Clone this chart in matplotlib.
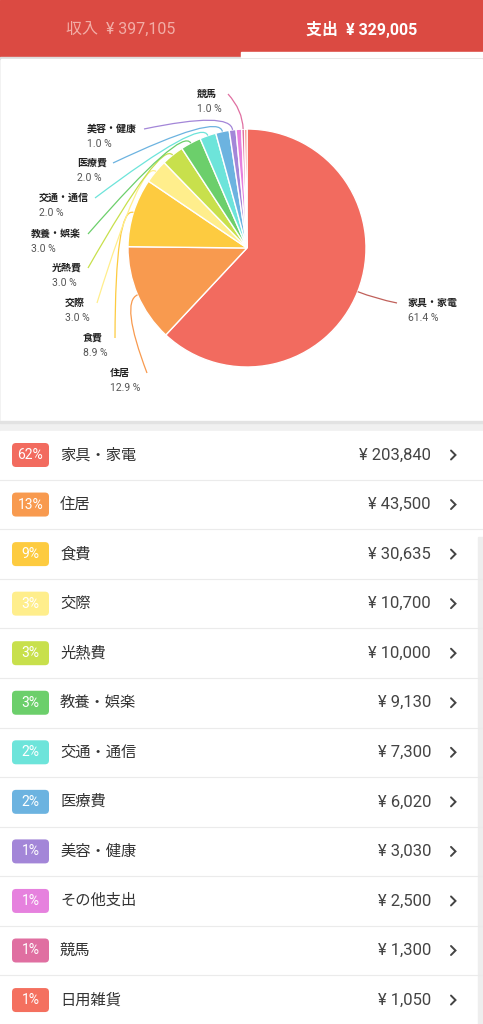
import matplotlib
matplotlib.use("Agg")

import numpy as np
import matplotlib.pyplot as plt
from matplotlib.patches import Rectangle, FancyBboxPatch, PathPatch
from matplotlib.path import Path

plt.rcParams['font.family'] = ['Roboto', 'Noto Sans CJK JP', 'DejaVu Sans']

# データ
income_label = '収入'
expense_label = '支出'
income_total = 397105

categories = ['家具・家電', '住居', '食費', '交際', '光熱費', '教養・娯楽',
              '交通・通信', '医療費', '美容・健康', 'その他支出', '競馬', '日用雑貨']
amounts = [203840, 43500, 30635, 10700, 10000, 9130,
           7300, 6020, 3030, 2500, 1300, 1050]
colors = ['#F26B5F', '#F89A4F', '#FDCB40', '#FFEE8C', '#C8E04C', '#6CCF6B',
          '#6DE4DA', '#6CB3E0', '#A386D8', '#E681DE', '#E06FA1', '#F4705F']
# 円グラフのラベルに表示されている値（画面の表示そのまま）
pie_pct_labels = ['61.4 %', '12.9 %', '8.9 %', '3.0 %', '3.0 %', '3.0 %',
                  '2.0 %', '2.0 %', '1.0 %', None, '1.0 %', None]

# レイアウト（ピクセル）
W, H = 483, 1024
cx, cy, r = 247, 248, 119
# ラベル位置: (テキスト左端x, 名前のy, 引き出し線の始点x)
label_pos = {
    0: (408, 303, 397),
    1: (110, 373, 147),
    2: (83, 338, 115),
    3: (65, 303, 97),
    4: (52, 268, 88),
    5: (31, 234, 88),
    6: (39, 198, 95),
    7: (77, 163, 113),
    8: (87, 129, 144),
    10: (197, 94, 228),
}

fig = plt.figure(figsize=(W / 100, H / 100), dpi=100)
fig.patch.set_facecolor('#F0F0F0')
ax = fig.add_axes([0, 0, 1, 1])

# 背景
ax.add_patch(Rectangle((0, 0), W, 57, color='#DB4A42', zorder=0))
ax.add_patch(Rectangle((241, 52), W - 241, 5, color='white', zorder=1))
ax.add_patch(Rectangle((0, 57), W, 2, color='#DDDDDD', zorder=0))
ax.add_patch(Rectangle((1, 59), W - 2, 362, color='white', zorder=0))
ax.add_patch(Rectangle((0, 421), W, 1.5, color='#E2E2E2', zorder=0))
ax.add_patch(Rectangle((0, 431), W, H - 431, color='white', zorder=0))
ax.add_patch(Rectangle((478, 537), 5, H - 537, color='#EEEEEE', zorder=1))

total = sum(amounts)
ax.text(121, 29, f'{income_label}  ¥ {income_total:,}', ha='center', va='center',
        fontsize=11.5, color='#F2ADA6')
ax.text(362, 29, f'{expense_label}  ¥ {total:,}', ha='center', va='center',
        fontsize=11.5, color='white', fontweight='bold')

# 円グラフ（y軸反転のため counterclock=True で見た目は時計回り）
wedges, _ = ax.pie(amounts, colors=colors, startangle=-90, counterclock=True,
                   center=(cx, cy), radius=r,
                   wedgeprops=dict(edgecolor='white', linewidth=1.0))

for i, w in enumerate(wedges):
    if pie_pct_labels[i] is None:
        continue
    tx, ty, ax0 = label_pos[i]
    mid = np.deg2rad((w.theta1 + w.theta2) / 2)
    edge = (cx + r * np.cos(mid), cy + r * np.sin(mid))
    out = (cx + r * 1.16 * np.cos(mid), cy + r * 1.16 * np.sin(mid))
    path = Path([(ax0, ty), out, edge], [Path.MOVETO, Path.CURVE3, Path.CURVE3])
    ax.add_patch(PathPatch(path, facecolor='none', edgecolor=colors[i] if i else '#C0605A',
                           linewidth=0.9, zorder=2))
    ax.text(tx, ty, categories[i], ha='left', va='center', fontsize=7.2,
            fontweight='bold', color='#222222')
    ax.text(tx, ty + 15, pie_pct_labels[i], ha='left', va='center', fontsize=7.5,
            color='#555555')

# リスト
row0, row_h = 455, 49.55
for i, (name, amt, col) in enumerate(zip(categories, amounts, colors)):
    yc = row0 + i * row_h
    pct = max(1, round(amt / total * 100))
    ax.add_patch(FancyBboxPatch((12, yc - 12), 37, 24,
                                boxstyle='round,pad=0,rounding_size=4',
                                facecolor=col, edgecolor='none', zorder=2))
    ax.text(30.5, yc, f'{pct}%', ha='center', va='center', fontsize=10,
            color='white', zorder=3)
    ax.text(60, yc, name, ha='left', va='center', fontsize=11, color='#333333')
    ax.text(431, yc, f'¥ {amt:,}', ha='right', va='center', fontsize=12,
            color='#444444')
    ax.plot([451, 455.5, 451], [yc - 4.5, yc, yc + 4.5], color='#444444',
            linewidth=1.4, solid_capstyle='round', solid_joinstyle='miter')
    sep = yc + row_h / 2
    ax.plot([0, W], [sep, sep], color='#EBEBEB', linewidth=0.8)

ax.set_xlim(0, W)
ax.set_ylim(H, 0)
ax.set_aspect('auto')
ax.axis('off')

plt.savefig('out.png', dpi=100, facecolor=fig.get_facecolor())
